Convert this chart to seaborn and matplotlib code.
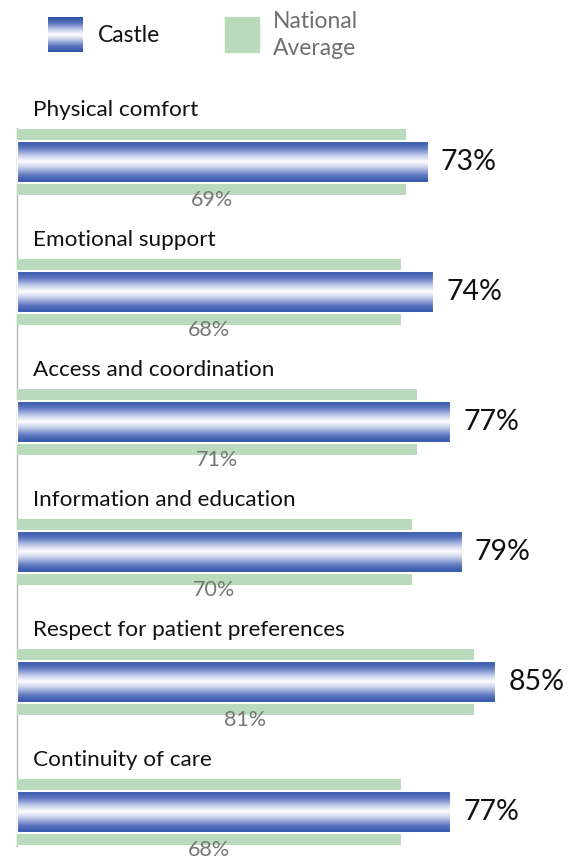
import numpy as np
import pandas as pd
import matplotlib
matplotlib.use("Agg")
import matplotlib.pyplot as plt
from matplotlib.colors import LinearSegmentedColormap
from matplotlib.patches import Rectangle
import seaborn as sns

# Survey dimensions and scores (percent)
categories = [
    "Physical comfort",
    "Emotional support",
    "Access and coordination",
    "Information and education",
    "Respect for patient preferences",
    "Continuity of care",
]
castle = [73, 74, 77, 79, 85, 77]
national = [69, 68, 71, 70, 81, 68]
legend_labels = ["Castle", "National\nAverage"]

GREEN = "#b9dabb"
GREY_TEXT = "#777777"
FONT = ["Lato", "DejaVu Sans"]

sns.set_theme(style="white")
plt.rcParams["font.family"] = FONT

df = pd.DataFrame({"category": categories, "castle": castle, "national": national})

W, H = 577, 858
fig = plt.figure(figsize=(W / 100, H / 100), dpi=100)
ax = fig.add_axes([17 / W, 0, 560 / W, (H - 97) / H])

# National average: wide pale band behind
sns.barplot(data=df, y="category", x="national", orient="h", color=GREEN,
            width=0.515, saturation=1, ax=ax, zorder=1, linewidth=0)
# Castle: narrower bar in front, filled with a vertical blue-white-blue gradient
sns.barplot(data=df, y="category", x="castle", orient="h", color="none",
            width=0.33, saturation=1, ax=ax, zorder=3,
            edgecolor="white", linewidth=1.5)

green_bars, blue_bars = ax.containers[0], ax.containers[1]

cmap = LinearSegmentedColormap.from_list(
    "castle_grad",
    [(0.0, "#2c4fa6"), (0.18, "#5d77c0"), (0.36, "#c4cdea"), (0.5, "#ffffff"),
     (0.64, "#c4cdea"), (0.82, "#5d77c0"), (1.0, "#2c4fa6")])
grad = np.linspace(0, 1, 256).reshape(-1, 1)

for patch in blue_bars:
    x0, y0 = patch.get_x(), patch.get_y()
    w, h = patch.get_width(), patch.get_height()
    ax.imshow(grad, cmap=cmap, aspect="auto", extent=[x0, x0 + w, y0 + h, y0],
              zorder=2.5, interpolation="bicubic")
    patch.set_facecolor("none")

# Value labels
ax.bar_label(blue_bars, labels=[f"{v}%" for v in castle], padding=8.5,
             fontsize=20.5, color="#111111")
for i, (cat, nat) in enumerate(zip(categories, national)):
    ax.text(nat / 2, i + 0.29, f"{nat}%", ha="center", va="center",
            fontsize=15.5, color=GREY_TEXT, zorder=5)
    ax.text(2.8, i - 0.40, cat, ha="left", va="center", fontsize=16.2,
            color="#111111", zorder=5)

ax.set_xlim(0, 560 / 5.64)
ax.set_ylim(-0.5 + (H - 97) / 130, -0.5)
ax.set_xlabel("")
ax.set_ylabel("")
ax.set_xticks([])
ax.set_yticks([])
for side in ["top", "right", "bottom"]:
    ax.spines[side].set_visible(False)
ax.spines["left"].set_color("#b5b5b5")
ax.spines["left"].set_linewidth(1.0)
ax.spines["left"].set_bounds(-0.26, 5.26)
ax.spines["left"].set_zorder(0)

# Legend
leg_ax = fig.add_axes([48 / W, 1 - 52 / H, 35 / W, 35 / H])
leg_ax.imshow(grad, cmap=cmap, aspect="auto", interpolation="bicubic")
leg_ax.axis("off")
fig.patches.append(Rectangle((225 / W, 1 - 52 / H), 34 / W, 35 / H,
                             transform=fig.transFigure, color=GREEN))
fig.text(98 / W, 1 - 36 / H, legend_labels[0], ha="left", va="center",
         fontsize=16.5, color="#111111")
fig.text(273 / W, 1 - 35 / H, legend_labels[1], ha="left", va="center",
         fontsize=16.5, color="#707070", linespacing=1.36)

fig.savefig("out.png", dpi=100)
